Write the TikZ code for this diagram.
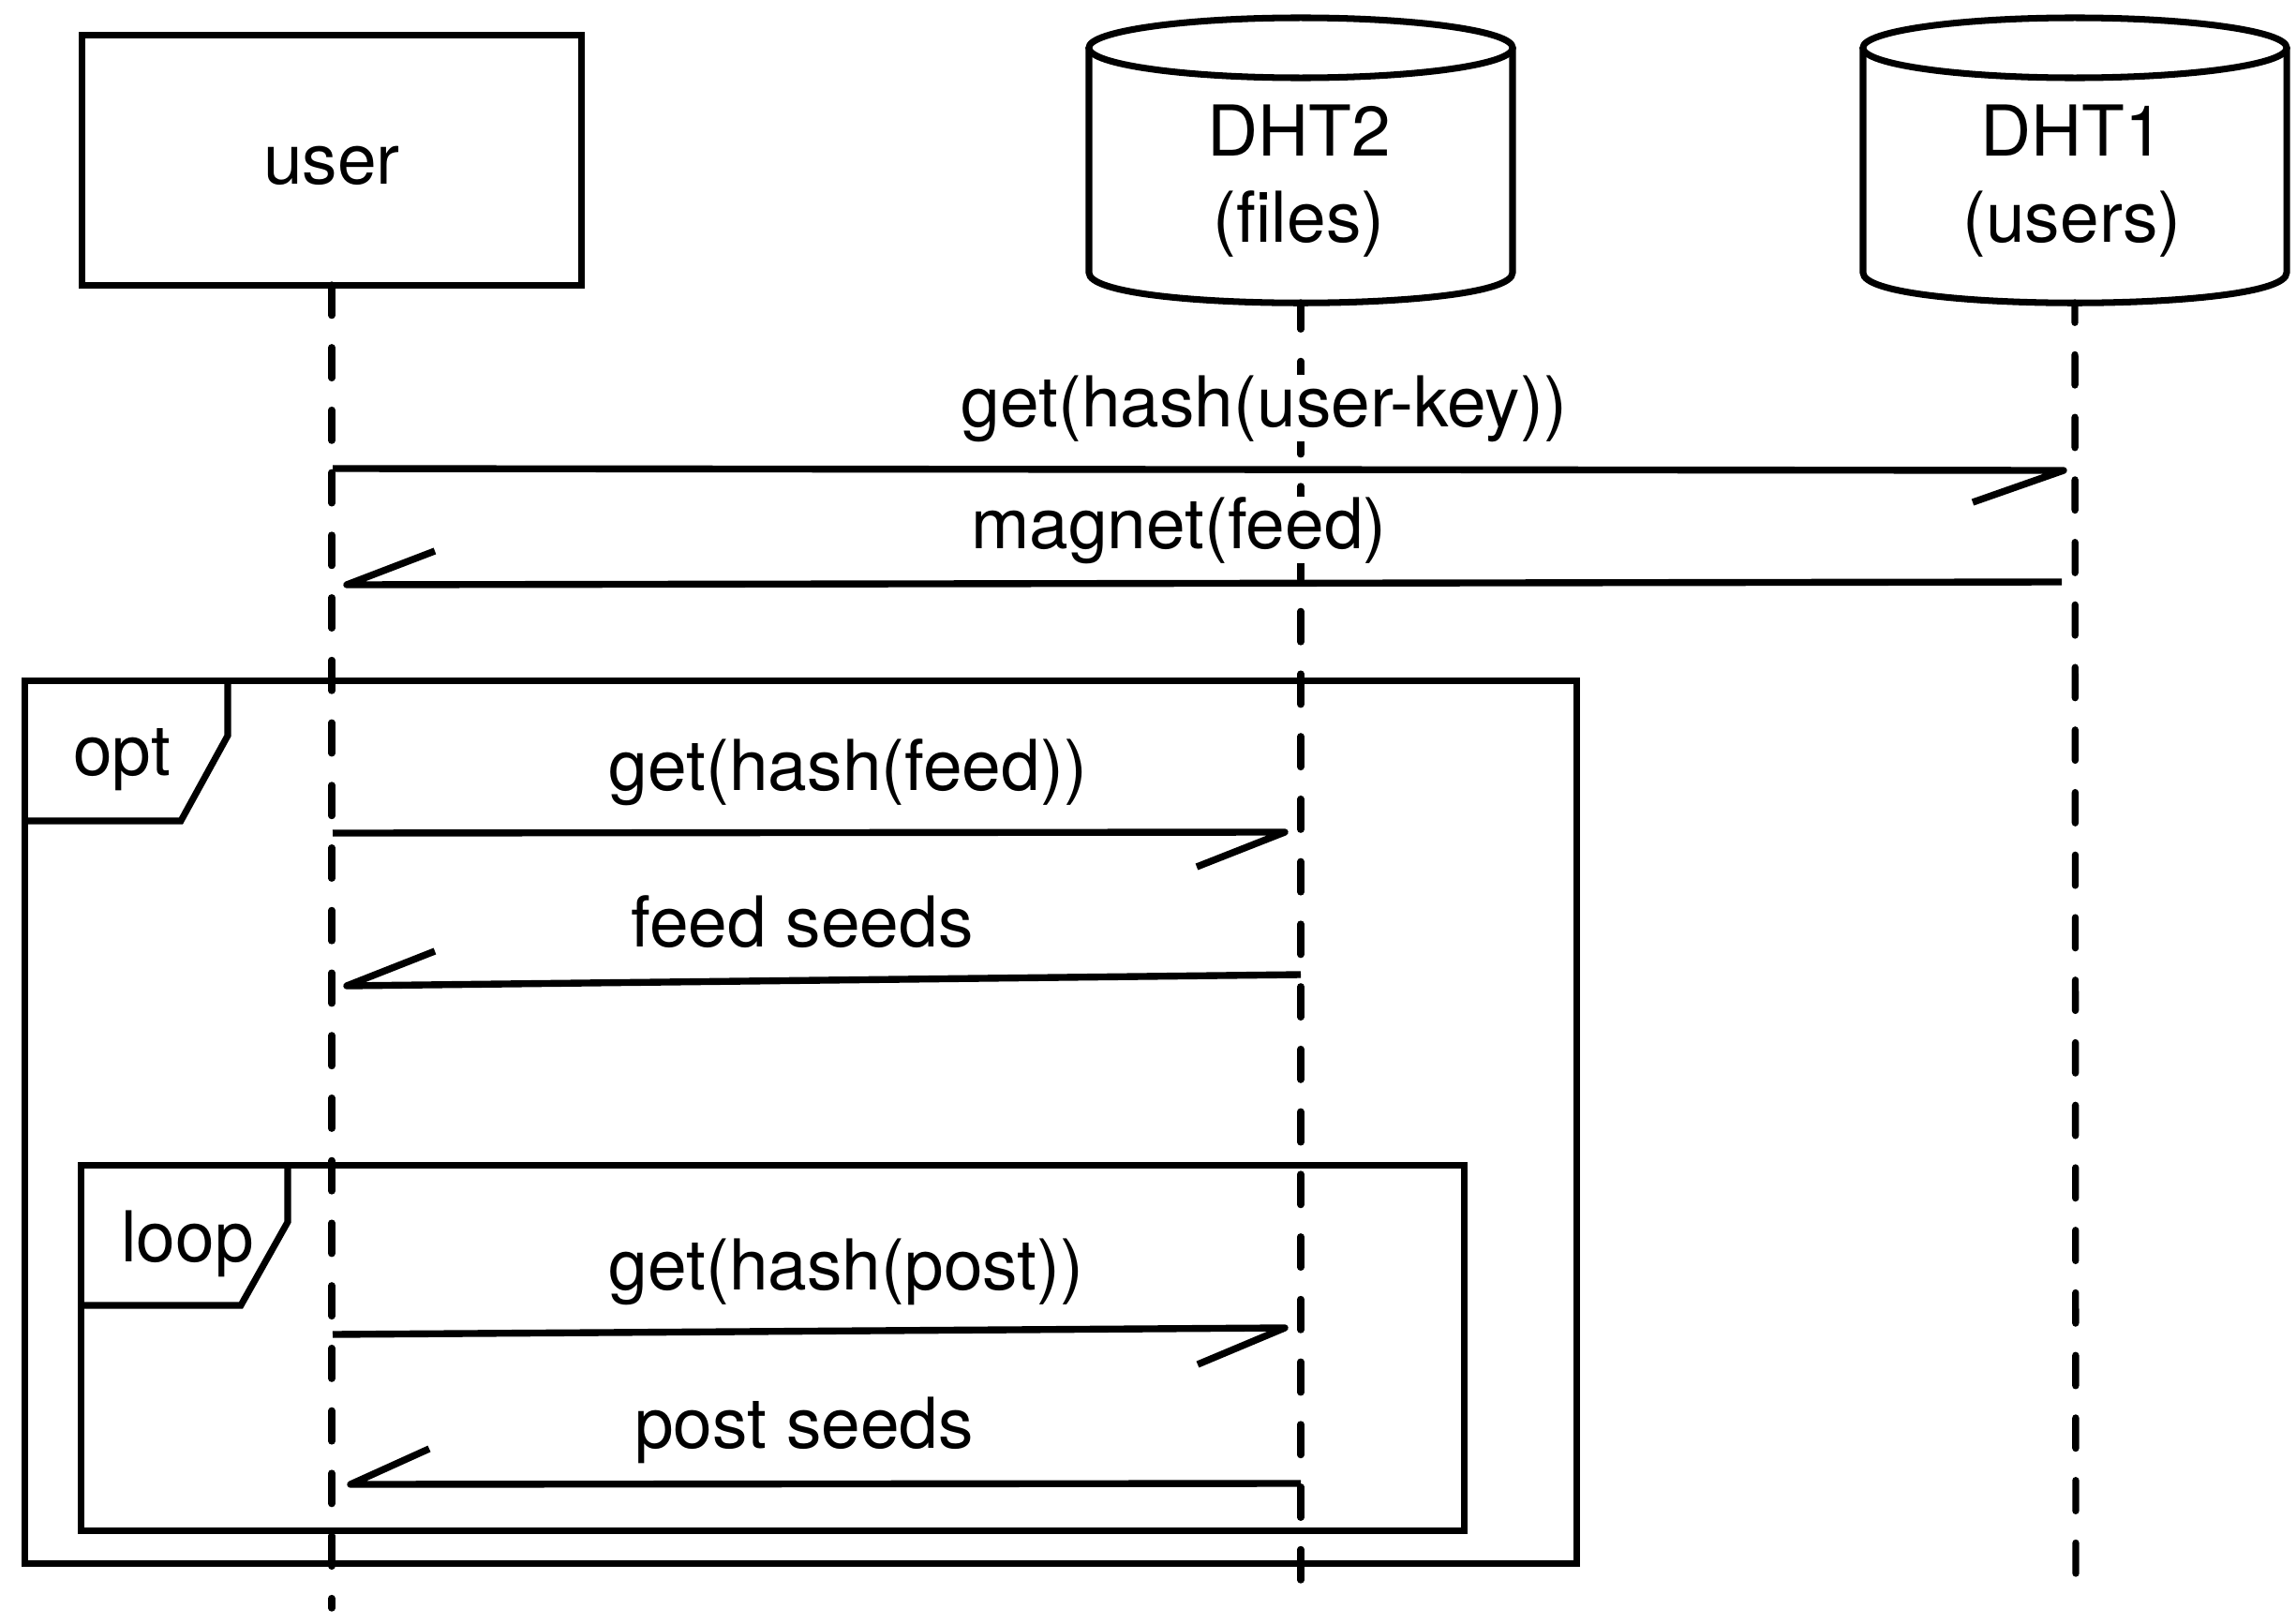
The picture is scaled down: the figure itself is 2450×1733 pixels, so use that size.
\documentclass[tikz,border=0pt]{standalone}
\usepackage{fontspec}
\setmainfont{TeX Gyre Heros}
\begin{document}
\begin{tikzpicture}[x=0.01cm,y=-0.01cm,
  every node/.style={font=\fontsize{21.3}{26.2}\selectfont, inner sep=0pt, outer sep=0pt},
  thickline/.style={line width=2pt},
  lifeline/.style={line width=2.1pt, line cap=round, dash pattern=on 0.325cm off 0.342cm},
  msg/.style={line width=2.1pt, line join=round},
  msglabel/.style={anchor=base, fill=white},
  frame/.style={draw, line width=2pt, rectangle},
  dbbox/.style={minimum width=4.52cm, minimum height=3.04cm}]
\useasboundingbox (0,0) rectangle (2450,1733);

% frames
\node[frame, minimum width=16.55cm, minimum height=9.41cm] (opt) at (854.5,1197.5) {};
\draw[thickline, line join=miter] (243,727) -- (243,785) -- (193,876) -- (27,876);
\node[anchor=base] (optlabel) at (130,827) {opt};

\node[frame, minimum width=14.75cm, minimum height=3.89cm] (loop) at (824.5,1438.5) {};
\draw[thickline, line join=miter] (307,1244) -- (307,1304) -- (257,1393) -- (87,1393);
\node[anchor=base] (looplabel) at (200,1346) {loop};

% participants
\node[frame, fill=white, minimum width=5.32cm, minimum height=2.66cm, text height=0.5cm, text depth=0pt] (user) at (354,171) {user};

\node[dbbox] (dht2) at (1388,171) {};
\draw[thickline, fill=white] (1162,51) -- (1162,291) .. controls (1162,334) and (1614,334) .. (1614,291) -- (1614,51);
\draw[thickline, fill=white] (1388,51) ellipse [x radius=2.26cm, y radius=0.32cm];
\node[align=center] (dht2label) at (1386,193) {DHT2\\(files)};

\node[dbbox] (dht1) at (2214,171) {};
\draw[thickline, fill=white] (1988,51) -- (1988,291) .. controls (1988,334) and (2440,334) .. (2440,291) -- (2440,51);
\draw[thickline, fill=white] (2214,51) ellipse [x radius=2.26cm, y radius=0.32cm];
\node[align=center] (dht1label) at (2211,193) {DHT1\\(users)};

% lifelines
\coordinate (uend) at (354,1716);
\coordinate (d2end) at (1388,1686);
\coordinate (d1end) at (2215,1679);
\draw[lifeline] (user.south) -- (uend);
\draw[lifeline] (d2end) -- (dht2.south);
\draw[lifeline] (d1end) -- (dht1.south);

% message labels
\node[msglabel] (l1) at (1349,455) {get(hash(user-key))};
\node[msglabel] (l2) at (1258,585) {magnet(feed)};
\node[msglabel] (l3) at (905,843) {get(hash(feed))};
\node[msglabel] (l4) at (856,1010) {feed seeds};
\node[msglabel] (l5) at (903,1376) {get(hash(post))};
\node[msglabel] (l6) at (858,1545) {post seeds};

% messages
\coordinate (m1s) at (355,500);  \coordinate (m1e) at (2202,502);  \coordinate (m1t) at (2105,536);
\coordinate (m2s) at (2200,621); \coordinate (m2e) at (370,624);   \coordinate (m2t) at (464,588);
\coordinate (m3s) at (355,889);  \coordinate (m3e) at (1371,888);  \coordinate (m3t) at (1277,925);
\coordinate (m4s) at (1388,1040);\coordinate (m4e) at (370,1052);  \coordinate (m4t) at (464,1015);
\coordinate (m5s) at (355,1424); \coordinate (m5e) at (1371,1417); \coordinate (m5t) at (1278,1456);
\coordinate (m6s) at (1388,1583);\coordinate (m6e) at (374,1584);  \coordinate (m6t) at (458,1546);

\draw[msg] (m1s) -- (m1e) -- (m1t);
\draw[msg] (m2s) -- (m2e) -- (m2t);
\draw[msg] (m3s) -- (m3e) -- (m3t);
\draw[msg] (m4s) -- (m4e) -- (m4t);
\draw[msg] (m5s) -- (m5e) -- (m5t);
\draw[msg] (m6s) -- (m6e) -- (m6t);
\end{tikzpicture}
\end{document}
